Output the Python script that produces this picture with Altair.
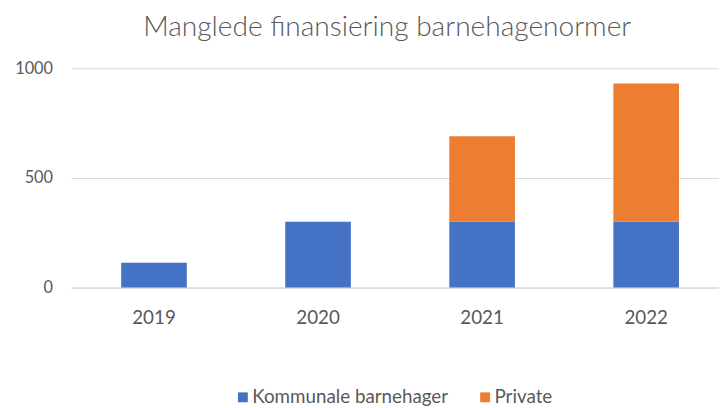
import altair as alt
import pandas as pd

years = ["2019", "2020", "2021", "2022"]
kommunale = [113, 300, 300, 300]
private = [0, 0, 390, 630]
series = ["Kommunale barnehager", "Private"]
colors = ["#4472C4", "#ED7D31"]
y_ticks = [0, 500, 1000]

rows = []
for i, yr in enumerate(years):
    rows.append({"year": yr, "serie": series[0], "value": kommunale[i], "ord": 0})
    if private[i] > 0:
        rows.append({"year": yr, "serie": series[1], "value": private[i], "ord": 1})
df = pd.DataFrame(rows)

FONT = "Lato"
GREY = "#595959"

chart = alt.Chart(df).mark_bar().encode(
    x=alt.X("year:N", sort=years, title=None,
            scale=alt.Scale(paddingInner=0.6, paddingOuter=0.274, align=0.555),
            axis=alt.Axis(labelAngle=0, domain=True, domainColor="#D9D9D9", ticks=False,
                          labelFontSize=19, labelColor=GREY, labelFont=FONT, labelPadding=21)),
    y=alt.Y("value:Q", stack="zero", title=None,
            scale=alt.Scale(domain=[0, 1000], nice=False),
            axis=alt.Axis(values=y_ticks, format="d", domain=False, ticks=False, gridColor="#D9D9D9",
                          labelFontSize=16.5, labelColor=GREY, labelFont=FONT, labelPadding=19)),
    color=alt.Color("serie:N", scale=alt.Scale(domain=series, range=colors),
                    legend=alt.Legend(title=None, orient="none", legendX=164, legendY=323,
                                      direction="horizontal", symbolType="square", symbolSize=100,
                                      symbolStrokeWidth=0, labelFontSize=19, labelColor=GREY,
                                      labelFont=FONT, labelOffset=0, columnPadding=27, padding=0,
                                      labelLimit=0)),
    order=alt.Order("ord:Q"),
).properties(
    width=655,
    height=221.6,
    padding={"left": 64, "top": 58.7, "right": 0, "bottom": 119.7},
    autosize=alt.AutoSizeParams(type="none"),
    title=alt.TitleParams("Manglede finansiering barnehagenormer", font=FONT, fontSize=28.4,
                          fontWeight=300, color=GREY, anchor="middle", dx=-8, offset=18),
).configure_view(stroke=None)

chart.save("out.html", embed_options={"renderer": "svg", "actions": False})
